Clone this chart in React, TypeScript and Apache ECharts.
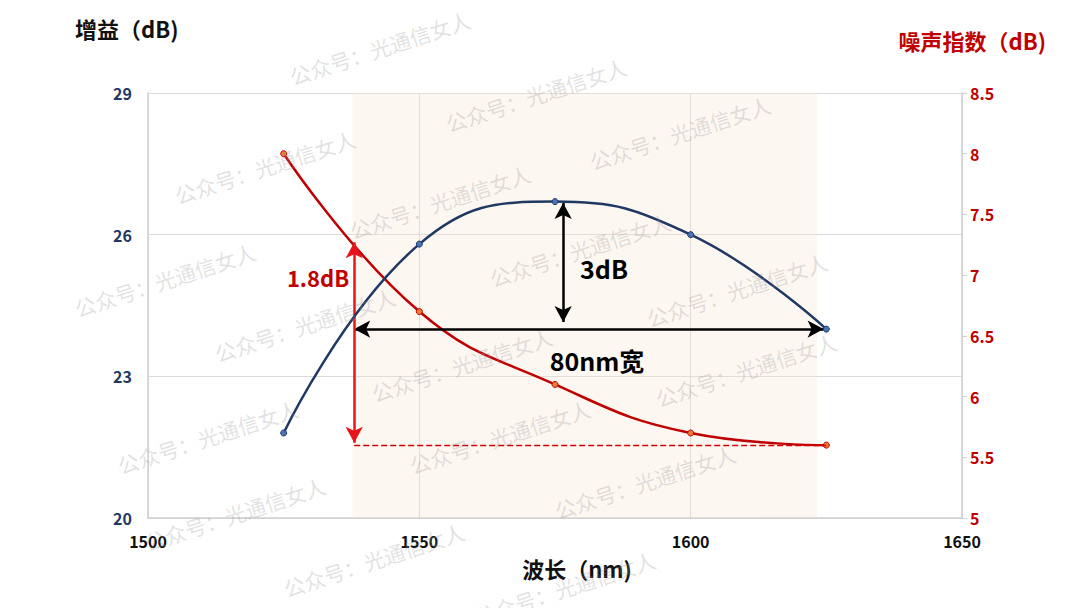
import React, { useEffect, useRef } from "react";
import * as echarts from "echarts";

const wavelengths = [1525, 1550, 1575, 1600, 1625];
const gain = [21.8, 25.8, 26.7, 26.0, 24.0];
const noiseFigure = [8.0, 6.7, 6.1, 5.7, 5.6];
const xTicks = { min: 1500, max: 1650, interval: 50 };
const gainTicks = { min: 20, max: 29, interval: 3 };
const nfTicks = { min: 5, max: 8.5, interval: 0.5 };
const bandStart = 1537.7;
const bandEnd = 1623.3;
const flatLeft = 1538;
const flatRight = 1624.5;
const flatGain = 24.0;
const peakX = 1576.5;
const peakGain = 26.67;
const nfTop = 7.27;
const nfBottom = 5.62;
const nfFloor = 5.6;

const watermarkText = "公众号：光通信女人";
const watermarkCenters = [
  [380, 48], [536, 95], [680, 133], [265, 167], [440, 202], [580, 250],
  [737, 290], [165, 280], [305, 325], [462, 365], [746, 370], [208, 437],
  [500, 437], [645, 482], [235, 514], [374, 560], [565, 588],
];

const FONT = "'Noto Sans CJK SC', 'Noto Sans', sans-serif";

export default function App() {
  const ref = useRef<HTMLDivElement>(null);
  useEffect(() => {
    if (!ref.current) return;
    const chart = echarts.init(ref.current, undefined, { renderer: "svg" });
    const gainData = wavelengths.map((w, i) => [w, gain[i]]);
    const nfData = wavelengths.map((w, i) => [w, noiseFigure[i]]);
    const watermarks = watermarkCenters.map(([x, y]) => ({
      type: "text",
      x,
      y,
      rotation: (18 * Math.PI) / 180,
      z: 100,
      silent: true,
      style: {
        text: watermarkText,
        fill: "rgba(150,150,150,0.28)",
        font: `21px ${FONT}`,
        align: "center",
        verticalAlign: "middle",
      },
    }));
    chart.setOption({
      animation: false,
      backgroundColor: "#ffffff",
      grid: { left: 148, right: 118, top: 93, bottom: 90 },
      xAxis: {
        type: "value",
        min: xTicks.min,
        max: xTicks.max,
        interval: xTicks.interval,
        axisLine: { show: true, lineStyle: { color: "#d0d0d0", width: 1.5 } },
        axisTick: { show: false },
        splitLine: { show: true, lineStyle: { color: "#dcdcdc", width: 1 } },
        axisLabel: {
          color: "#111111",
          fontSize: 16,
          fontWeight: "bold",
          fontFamily: FONT,
          margin: 15,
          formatter: (v: number) => String(v),
        },
      },
      yAxis: [
        {
          type: "value",
          min: gainTicks.min,
          max: gainTicks.max,
          interval: gainTicks.interval,
          position: "left",
          axisLine: { show: true, lineStyle: { color: "#d0d0d0", width: 1.5 } },
          axisTick: { show: false },
          splitLine: { show: true, lineStyle: { color: "#dcdcdc", width: 1 } },
          axisLabel: {
            color: "#1f3864",
            fontSize: 16,
            fontWeight: "bold",
            fontFamily: FONT,
            margin: 16,
          },
        },
        {
          type: "value",
          min: nfTicks.min,
          max: nfTicks.max,
          interval: nfTicks.interval,
          position: "right",
          axisLine: { show: true, lineStyle: { color: "#d0d0d0", width: 1.5 } },
          axisTick: { show: true, length: 5, inside: false, lineStyle: { color: "#d0d0d0" } },
          splitLine: { show: false },
          axisLabel: {
            color: "#c00000",
            fontSize: 16,
            fontWeight: "bold",
            fontFamily: FONT,
            margin: 8,
          },
        },
      ],
      series: [
        {
          name: "增益",
          type: "line",
          yAxisIndex: 0,
          data: gainData,
          smooth: 0.45,
          symbol: "circle",
          symbolSize: 6,
          z: 5,
          lineStyle: { color: "#1f3864", width: 2.5 },
          itemStyle: { color: "#4a72b8", borderColor: "#1f3864", borderWidth: 1 },
          markArea: {
            silent: true,
            itemStyle: { color: "rgba(246,222,205,0.25)" },
            data: [[{ xAxis: bandStart }, { xAxis: bandEnd }]],
          },
          markLine: {
            silent: true,
            symbol: ["arrow", "arrow"],
            symbolSize: [13, 16],
            label: { show: false },
            lineStyle: { color: "#000000", width: 2.5, type: "solid" },
            data: [
              [{ coord: [flatLeft, flatGain] }, { coord: [flatRight, flatGain] }],
              [{ coord: [peakX, peakGain] }, { coord: [peakX, flatGain + 0.15] }],
            ],
          },
        },
        {
          name: "噪声指数",
          type: "line",
          yAxisIndex: 1,
          data: nfData,
          smooth: 0.45,
          symbol: "circle",
          symbolSize: 6,
          z: 4,
          lineStyle: { color: "#c00000", width: 2.5 },
          itemStyle: { color: "#ed7d31", borderColor: "#c00000", borderWidth: 1 },
          markLine: {
            silent: true,
            symbol: ["arrow", "arrow"],
            symbolSize: [13, 16],
            label: { show: false },
            lineStyle: { color: "#e8141c", width: 2.5, type: "solid" },
            data: [[{ coord: [flatLeft, nfTop] }, { coord: [flatLeft, nfBottom] }]],
          },
        },
        {
          name: "底线",
          type: "line",
          yAxisIndex: 1,
          data: [],
          z: 3,
          color: "#d00000",
          markLine: {
            silent: true,
            symbol: ["none", "none"],
            label: { show: false },
            lineStyle: { color: "#d00000", width: 1.3, type: [6, 3], opacity: 1 },
            data: [[{ coord: [flatLeft, nfFloor] }, { coord: [flatRight + 0.5, nfFloor] }]],
          },
        },
      ],
      graphic: [
        {
          type: "text",
          left: 75,
          top: 17,
          style: { text: "增益（dB)", fill: "#111111", font: `bold 22px ${FONT}` },
        },
        {
          type: "text",
          right: 34,
          top: 29,
          style: { text: "噪声指数（dB)", fill: "#c00000", font: `bold 22px ${FONT}` },
        },
        {
          type: "text",
          x: 577,
          y: 568,
          style: {
            text: "波长（nm)",
            fill: "#111111",
            font: `bold 22px ${FONT}`,
            align: "center",
            verticalAlign: "middle",
          },
        },
        {
          type: "text",
          x: 318,
          y: 277,
          z: 10,
          style: {
            text: "1.8dB",
            fill: "#c00000",
            font: `bold 22px ${FONT}`,
            align: "center",
            verticalAlign: "middle",
          },
        },
        {
          type: "text",
          x: 604,
          y: 268,
          z: 10,
          style: {
            text: "3dB",
            fill: "#000000",
            font: `bold 25px ${FONT}`,
            align: "center",
            verticalAlign: "middle",
          },
        },
        {
          type: "text",
          x: 597,
          y: 360,
          z: 10,
          style: {
            text: "80nm宽",
            fill: "#000000",
            font: `bold 25px ${FONT}`,
            align: "center",
            verticalAlign: "middle",
          },
        },
        ...watermarks,
      ],
    });
    return () => chart.dispose();
  }, []);
  return (
    <div
      ref={ref}
      style={{ position: "fixed", left: 0, top: 0, width: 1080, height: 608, background: "#fff" }}
    />
  );
}
